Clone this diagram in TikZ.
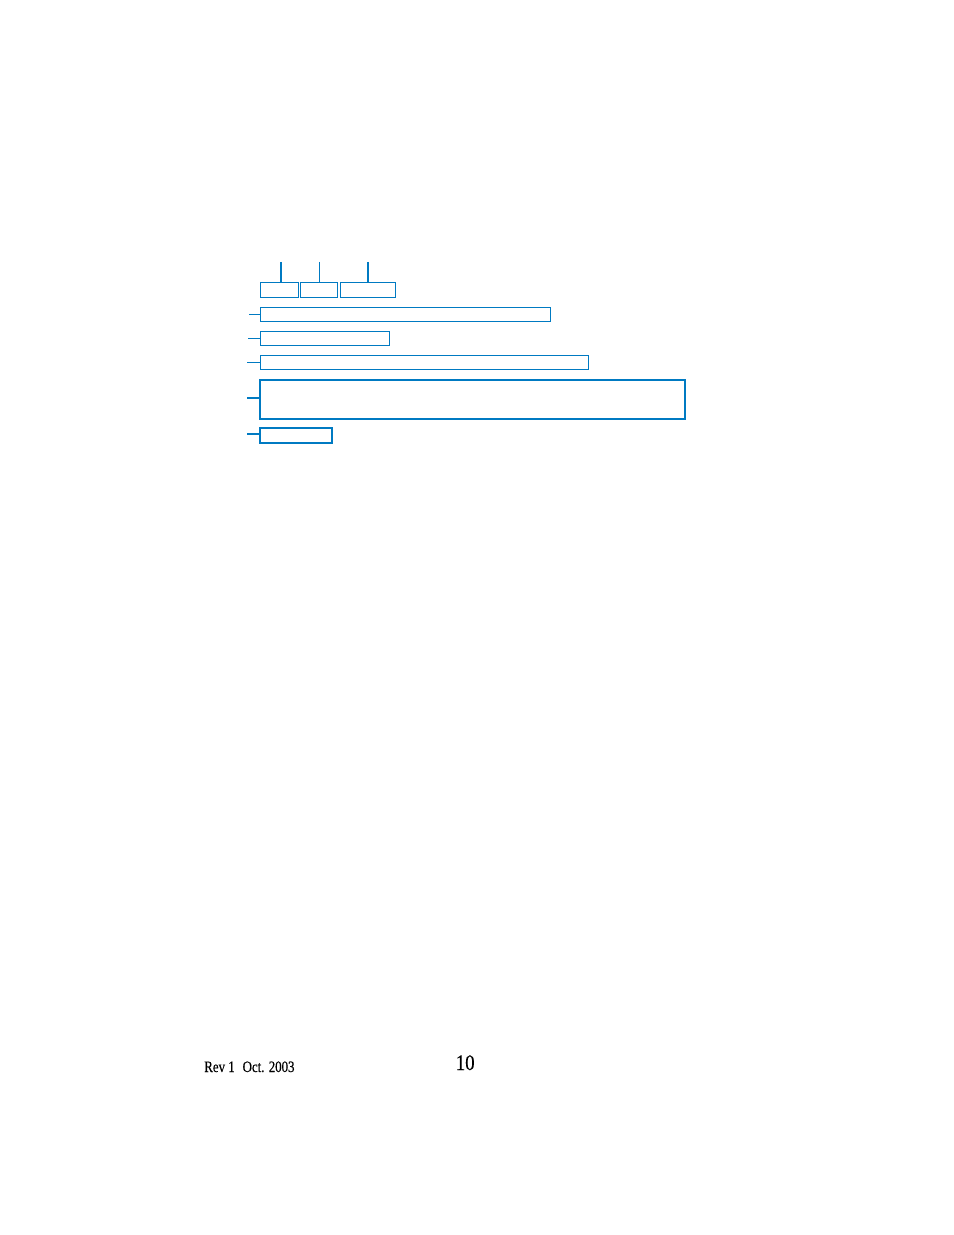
\documentclass[tikz,border=0pt]{standalone}
\usepackage{fontspec}
\setmainfont{Liberation Serif}
\newfontfamily\footfont{Liberation Serif}[FakeStretch=0.85,FakeBold=0.4]
\newfontfamily\revfont{Liberation Serif}[FakeStretch=0.81,FakeBold=0.4]
\definecolor{rblue}{RGB}{0,122,194}
\begin{document}
\begin{tikzpicture}[x=0.64151pt,y=-0.64151pt,
  box/.style={draw=rblue,line width=0.64pt,inner sep=0pt,anchor=north west},
  boxthick/.style={box,line width=1.28pt},
  lead/.style={draw=rblue,line width=0.64pt},
  leadthick/.style={draw=rblue,line width=1.28pt},
  foot/.style={inner sep=0pt,anchor=base west}]
\useasboundingbox (0,0) rectangle (954,1235);
% top small boxes
\node[box,minimum width=38*0.64151pt,minimum height=15*0.64151pt] (s1) at (259.5,282.3) {};
\node[box,minimum width=37*0.64151pt,minimum height=15*0.64151pt] (s2) at (300.3,282.3) {};
\node[box,minimum width=55.6*0.64151pt,minimum height=15*0.64151pt] (s3) at (339.7,282.3) {};
% rows
\node[box,minimum width=290.5*0.64151pt,minimum height=14.6*0.64151pt] (r1) at (259.5,306.7) {};
\node[box,minimum width=129.5*0.64151pt,minimum height=14.6*0.64151pt] (r2) at (259.5,330.7) {};
\node[box,minimum width=328.8*0.64151pt,minimum height=14*0.64151pt] (r3) at (259.5,355.3) {};
\node[boxthick,minimum width=425*0.64151pt,minimum height=39*0.64151pt] (r4) at (259,379) {};
\node[boxthick,minimum width=72*0.64151pt,minimum height=14.4*0.64151pt] (r5) at (259,427.3) {};
% top leaders
\coordinate (t1) at (281,262);
\coordinate (t2) at (319.3,262);
\coordinate (t3) at (368,262);
\draw[leadthick] (t1) -- (t1 |- s1.north);
\draw[lead] (t2) -- (t2 |- s2.north);
\draw[leadthick] (t3) -- (t3 |- s3.north);
% left leaders
\coordinate (l1) at (249,314.3);
\coordinate (l2) at (248,338.3);
\coordinate (l3) at (247,362.3);
\coordinate (l4) at (247,397.7);
\coordinate (l5) at (247,434);
\draw[lead] (l1) -- (l1 -| r1.west);
\draw[lead] (l2) -- (l2 -| r2.west);
\draw[lead] (l3) -- (l3 -| r3.west);
\draw[leadthick] (l4) -- (l4 -| r4.west);
\draw[leadthick] (l5) -- (l5 -| r5.west);
% footer
\node[foot,font=\revfont\fontsize{10.2}{12}\selectfont] (rev) at (204,1072) {Rev 1\hspace{0.5em}Oct. 2003};
\node[foot,font=\footfont\fontsize{14.2}{16}\selectfont] (pg) at (455.5,1070) {10};
\end{tikzpicture}
\end{document}
